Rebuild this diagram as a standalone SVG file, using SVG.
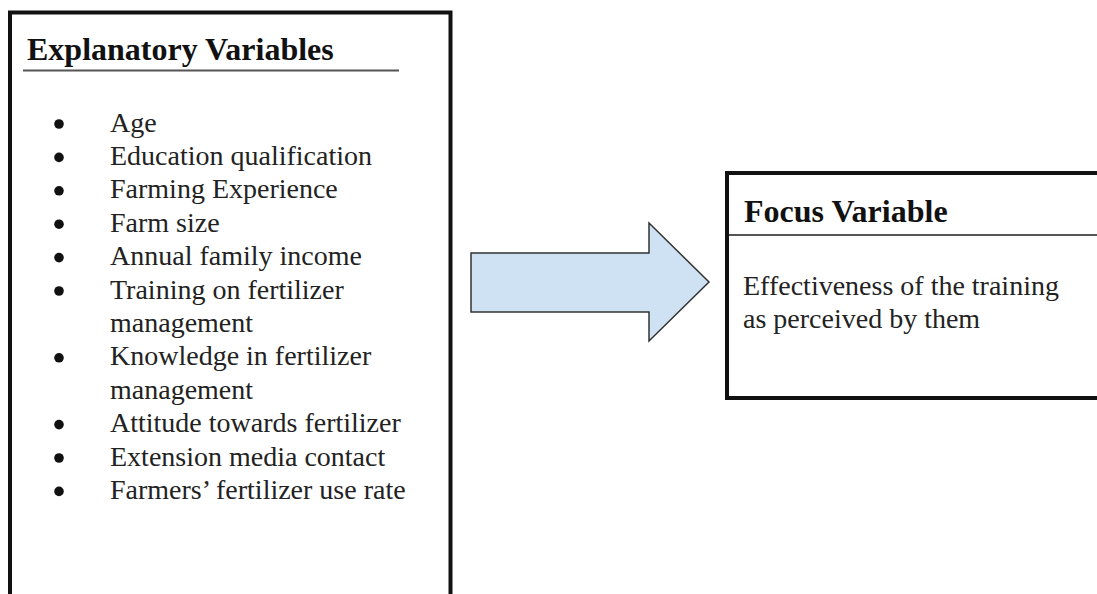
<svg xmlns="http://www.w3.org/2000/svg" width="1097" height="594" viewBox="0 0 1097 594">
<style>
.box{fill:#fff;stroke:#111;stroke-width:4}
.rule{stroke:#555;stroke-width:2}
.title{font-family:"Liberation Serif","Times New Roman",serif;font-weight:bold;font-size:32px;fill:#111}
.item{font-family:"Liberation Serif","Times New Roman",serif;font-size:28px;fill:#222}
.dot{fill:#111}
.arrow{fill:#cfe2f3;stroke:#333;stroke-width:1.5;stroke-linejoin:miter}
</style>
<rect width="1097" height="594" fill="#fff"/>
<g id="explanatory">
<rect class="box" x="10" y="12.5" width="440.5" height="600"/>
<text class="title" x="27" y="60">Explanatory Variables</text>
<line class="rule" x1="23" y1="70.5" x2="399" y2="70.5"/>
<g class="dot">
<circle cx="59" cy="124" r="4.8"/>
<circle cx="59" cy="157.4" r="4.8"/>
<circle cx="59" cy="190.8" r="4.8"/>
<circle cx="59" cy="224.2" r="4.8"/>
<circle cx="59" cy="257.6" r="4.8"/>
<circle cx="59" cy="291" r="4.8"/>
<circle cx="59" cy="357.8" r="4.8"/>
<circle cx="59" cy="424.6" r="4.8"/>
<circle cx="59" cy="458" r="4.8"/>
<circle cx="59" cy="491.4" r="4.8"/>
</g>
<text class="item" x="110" y="131.5">Age</text>
<text class="item" x="110" y="164.9">Education qualification</text>
<text class="item" x="110" y="198.3">Farming Experience</text>
<text class="item" x="110" y="231.7">Farm size</text>
<text class="item" x="110" y="265.1">Annual family income</text>
<text class="item" x="110" y="298.5">Training on fertilizer</text>
<text class="item" x="110" y="331.9">management</text>
<text class="item" x="110" y="365.3">Knowledge in fertilizer</text>
<text class="item" x="110" y="398.7">management</text>
<text class="item" x="110" y="432.1">Attitude towards fertilizer</text>
<text class="item" x="110" y="465.5">Extension media contact</text>
<text class="item" x="110" y="498.9">Farmers’ fertilizer use rate</text>
</g>
<g id="connectors">
<polygon class="arrow" points="471,253 649,253 649,223 709,282 649,341 649,312 471,312"/>
</g>
<g id="focus">
<rect class="box" x="727" y="173" width="400" height="225"/>
<text class="title" x="744" y="222">Focus Variable</text>
<line class="rule" x1="729" y1="235" x2="1097" y2="235"/>
<text class="item" x="743" y="295">Effectiveness of the training</text>
<text class="item" x="743" y="328">as perceived by them</text>
</g>
</svg>
